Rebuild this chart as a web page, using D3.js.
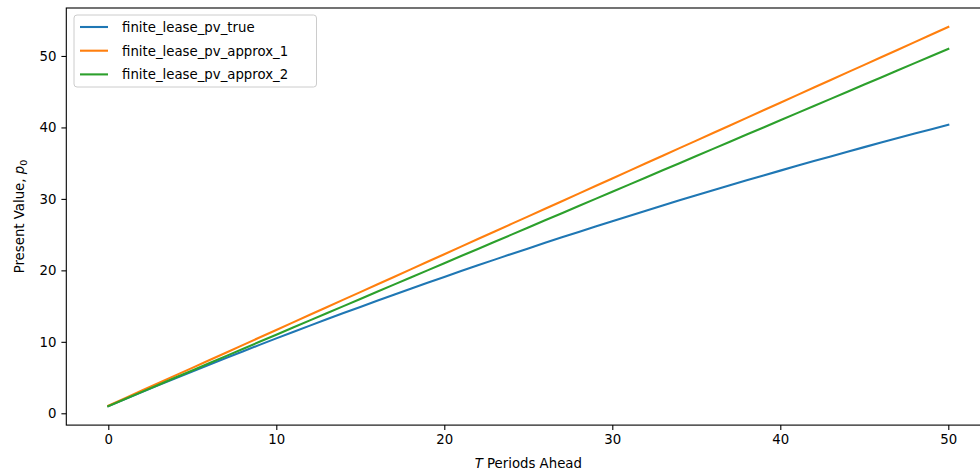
<!DOCTYPE html>
<html><head><meta charset="utf-8">
<script src="https://cdn.jsdelivr.net/npm/d3@7"></script>
<style>
body{margin:0;background:#fff;}
svg text{font-family:"DejaVu Sans",sans-serif;}
</style></head><body>
<svg id="c" width="980" height="473"></svg>
<script>
const periods = d3.range(0, 51);
const pvTrue = [1.000,1.990,2.971,3.942,4.904,5.856,6.799,7.733,8.658,9.574,
10.481,11.379,12.269,13.150,14.022,14.886,15.741,16.589,17.428,18.258,
19.081,19.896,20.703,21.502,22.293,23.076,23.852,24.621,25.382,26.135,
26.882,27.621,28.352,29.077,29.795,30.506,31.209,31.906,32.597,33.280,
33.957,34.627,35.291,35.948,36.599,37.244,37.883,38.515,39.141,39.761,40.375];
const pvApprox1 = [1.06,2.12,3.18,4.24,5.30,6.36,7.42,8.48,9.54,10.60,
11.66,12.72,13.78,14.84,15.90,16.96,18.02,19.08,20.14,21.20,
22.26,23.32,24.38,25.44,26.50,27.56,28.62,29.68,30.74,31.80,
32.86,33.92,34.98,36.04,37.10,38.16,39.22,40.28,41.34,42.40,
43.46,44.52,45.58,46.64,47.70,48.76,49.82,50.88,51.94,53.00,54.06];
const pvApprox2 = [1,2,3,4,5,6,7,8,9,10,11,12,13,14,15,16,17,18,19,20,
21,22,23,24,25,26,27,28,29,30,31,32,33,34,35,36,37,38,39,40,
41,42,43,44,45,46,47,48,49,50,51];
const seriesNames = ["finite_lease_pv_true","finite_lease_pv_approx_1","finite_lease_pv_approx_2"];
const seriesColors = ["#1f77b4","#ff7f0e","#2ca02c"];
const xTicks = [0,10,20,30,40,50];
const yTicks = [0,10,20,30,40,50];

const svg = d3.select("#c");
const L = 66.3, R = 990.3, T = 8.0, B = 425.1;
const x = d3.scaleLinear().domain([-2.5, 52.5]).range([L, R]);
const y = d3.scaleLinear().domain([-1.653, 56.713]).range([B, T]);

const series = [pvTrue, pvApprox1, pvApprox2];
const line = d3.line().x((d,i)=>x(periods[i])).y(d=>y(d));
series.forEach((s,k)=>{
  svg.append("path").datum(s).attr("d", line)
    .attr("fill","none").attr("stroke", seriesColors[k]).attr("stroke-width",2.1)
    .attr("stroke-linecap","square");
});

const xa = svg.append("g").attr("transform",`translate(0,${B})`)
  .call(d3.axisBottom(x).tickValues(xTicks).tickSize(4.9).tickPadding(4.9).tickFormat(d3.format("d")));
const ya = svg.append("g").attr("transform",`translate(${L},0)`)
  .call(d3.axisLeft(y).tickValues(yTicks).tickSize(4.9).tickPadding(4.9).tickFormat(d3.format("d")));
[xa,ya].forEach(a=>{
  a.select(".domain").remove();
  a.selectAll("line").attr("stroke","#000").attr("stroke-width",1.1);
  a.selectAll("text").attr("font-size",13.3).attr("fill","#000").attr("font-family","DejaVu Sans");
});
// spines
svg.append("rect").attr("x",L).attr("y",T).attr("width",R-L).attr("height",B-T)
  .attr("fill","none").attr("stroke","#000").attr("stroke-width",1.1);

// axis labels
const xl = svg.append("text").attr("x", (L+R)/2).attr("y", 468).attr("text-anchor","middle")
  .attr("font-size",13.3);
xl.append("tspan").attr("font-style","italic").text("T");
xl.append("tspan").text(" Periods Ahead");
const yl = svg.append("text").attr("transform",`translate(24,${(T+B)/2}) rotate(-90)`)
  .attr("text-anchor","middle").attr("font-size",13.3);
yl.append("tspan").text("Present Value, ");
yl.append("tspan").attr("font-style","italic").text("p");
yl.append("tspan").attr("font-size",9.5).attr("dy",3).text("0");

// legend
const lg = svg.append("g");
lg.append("rect").attr("x",74).attr("y",15).attr("width",242.5).attr("height",72).attr("rx",3)
  .attr("fill","#fff").attr("fill-opacity",0.8).attr("stroke","#ccc").attr("stroke-width",1);
seriesNames.forEach((n,k)=>{
  const yy = 27 + k*23.7;
  lg.append("line").attr("x1",80).attr("x2",108).attr("y1",yy).attr("y2",yy)
    .attr("stroke",seriesColors[k]).attr("stroke-width",2.1);
  lg.append("text").attr("x",122).attr("y",yy+4.8).attr("font-size",13.3).text(n);
});
</script></body></html>
